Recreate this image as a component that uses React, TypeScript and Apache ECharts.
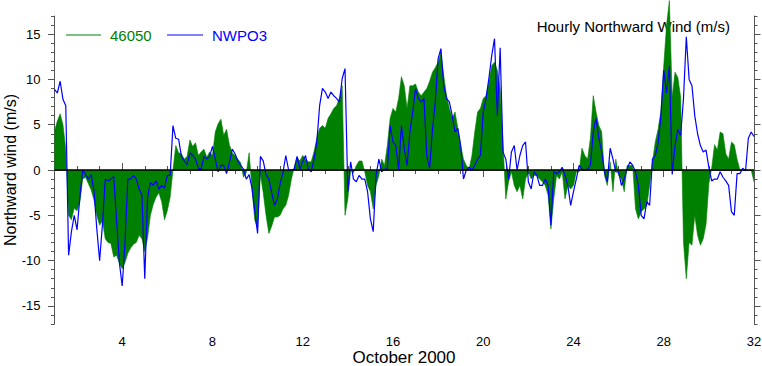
import React, { useEffect, useRef } from "react";
import * as echarts from "echarts";

// 3-hourly samples (8 per day) of hourly northward wind, Oct 1 00h .. Nov 1 00h (day 32)
const samplesPerDay = 8;
const startDay = 1;

const buoy46050: number[] = [
  4.3, 5.4, 6.2, 5.0, 2.3, -5.0, -5.5, -4.2,
  -4.5, -3.5, -1.0, -0.8, -1.5, -2.2, -3.3, -5.0,
  -6.1, -5.6, -7.6, -8.0, -8.1, -9.6, -9.4, -10.3,
  -10.9, -10.2, -9.2, -8.6, -8.2, -8.0, -7.2, -7.6,
  -9.0, -7.5, -5.0, -3.8, -3.0, -2.5, -3.5, -5.5,
  -4.5, -3.0, 0.0, 2.7, 1.9, 1.8, 1.2, 1.5,
  3.3, 2.6, 3.0, 1.6, 2.0, 2.3, 1.4, 2.0,
  1.6, 4.2, 5.1, 5.6, 3.8, 4.5, 2.8, 1.9,
  1.6, 1.2, 0.8, -0.8, -0.3, 1.9, -2.0, -5.5,
  -6.5, -0.5, -2.5, -5.0, -7.0, -6.2, -5.2, -5.2,
  -5.0, -4.3, -3.9, -2.8, -1.0, 0.3, 1.4, 1.0,
  1.6, 1.2, 0.9, 0.9, 2.0, 3.5, 4.6, 4.9,
  4.6, 5.7, 6.2, 6.8, 7.1, 7.9, 9.3, -5.0,
  -3.2, 0.0, -0.3, 0.5, 1.0, 1.0, -0.2, -1.7,
  -2.4, -4.3, -1.7, -0.6, 1.2, 0.5, 2.7, 5.7,
  6.8, 6.4, 7.9, 10.3, 9.3, 6.8, 9.3, 9.3,
  9.5, 8.6, 8.2, 8.6, 9.0, 9.8, 10.8, 11.3,
  11.9, 13.0, 10.4, 8.2, 6.8, 5.7, 6.4, 4.6,
  2.7, 1.2, 0.5, 0.1, 1.6, 4.2, 6.4, 6.8,
  7.9, 8.2, 9.7, 11.5, 11.9, 11.0, 9.0, 3.0,
  -3.2, -1.3, -0.2, -1.7, -2.4, -1.7, -3.2, -1.0,
  -0.2, -1.0, -0.6, -0.6, -1.0, -1.3, -1.7, -2.8,
  -6.5, -3.2, -0.6, -1.0, -0.2, -3.2, -1.7, -2.1,
  -1.7, -0.2, -0.2, 2.4, 1.6, 1.2, 3.5, 8.2,
  6.4, 4.9, 4.2, -0.6, -1.7, 0.9, -2.4, 1.2,
  -0.6, -1.0, -2.4, 0.5, 0.5, 0.5, -4.3, -5.4,
  -4.6, -4.3, -3.9, -1.7, 0.9, 3.1, 4.5, 6.5,
  11.5, 16.0, 18.7, 8.0, 10.8, 10.2, 8.0, -8.0,
  -12.0, -8.0, -8.3, -5.0, -7.2, -8.3, -7.6, -6.0,
  -1.5, 0.2, 2.8, 2.2, 4.2, 4.0, 1.8, 1.2,
  3.1, 2.8, 1.2, 0.0, 0.0, 0.0, 0.0, 0.0,
  -1.3,
];

const stationNWPO3: number[] = [
  8.9, 8.5, 9.8, 7.8, 7.1, -9.4, -6.8, -5.0,
  -6.6, -3.0, 0.0, -0.5, -1.0, -0.5, -2.3, -6.5,
  -10.0, -6.0, -1.0, -1.2, -1.0, -0.7, -5.5, -10.2,
  -12.8, -8.0, -1.0, -1.0, -0.6, -1.0, -2.1, -2.8,
  -12.0, -3.0, -1.4, -1.7, -1.2, -2.1, -1.7, -2.0,
  -0.6, -0.6, 4.9, 3.5, 3.4, 1.5, 1.0, 0.6,
  1.9, 1.6, 1.2, 0.2, 0.1, 1.5, 1.2, 1.5,
  2.6, 1.2, -0.2, 0.5, 0.5, -0.4, 0.8, 2.3,
  1.8, 1.0, 0.5, 0.1, -1.0, -0.5, -2.0, -4.5,
  -7.0, 1.5, 1.0, -0.5, -1.0, -2.5, -3.9, -3.2,
  -1.5, -0.3, 1.6, 0.0, 0.0, 0.1, 1.5, 0.1,
  0.9, 1.6, 0.1, -0.2, 1.2, 3.1, 7.1, 9.0,
  8.6, 7.9, 8.6, 8.2, 7.9, 7.5, 10.1, 11.2,
  -2.4, 0.9, -1.0, -1.3, -0.6, -1.0, -1.0, -2.4,
  -5.4, -6.8, -0.6, 1.2, -0.2, 0.1, 0.1, 4.9,
  3.1, 2.7, 0.1, 4.9, 2.4, 0.5, 4.2, 6.4,
  9.0, 7.9, 7.5, 7.9, 1.5, 0.2, 4.5, 7.5,
  12.3, 13.4, 9.3, 7.9, 7.5, 6.0, 4.2, 4.6,
  2.7, -1.0, 0.0, 0.3, 0.0, 0.5, 1.2, 1.6,
  6.4, 7.9, 10.1, 12.6, 14.5, 6.0, 13.5, 2.0,
  1.2, -1.0, 2.0, 2.7, 0.0, 1.6, 2.7, 3.1,
  -1.3, -2.1, -0.2, -0.6, -1.7, -1.7, -1.0, -1.7,
  -6.1, -0.2, -0.4, -0.2, 0.3, -0.6, -1.7, -3.9,
  -2.4, -1.0, 0.5, 0.1, 0.0, 0.1, 0.5, 4.2,
  5.7, 3.5, 2.0, -0.2, -1.3, 2.4, 1.2, -0.2,
  -0.2, -1.7, -1.0, 0.1, 0.9, 0.5, -0.2, -1.7,
  -5.0, -5.4, -3.5, -3.9, 1.2, 1.6, 3.0, 6.0,
  11.0, 8.5, 11.5, -0.5, 2.7, 4.5, 3.8, 7.9,
  14.7, 10.0, 9.3, 6.0, 4.0, 2.7, 2.0, 2.2,
  0.3, -1.2, -1.0, -1.0, -0.2, -0.8, -1.2, -1.7,
  -4.6, -5.0, -0.4, -0.4, 0.2, -0.1, 3.5, 4.2,
  3.7,
];

const xLabelDays = [4, 8, 12, 16, 20, 24, 28, 32];
const yLabelValues = [-15, -10, -5, 0, 5, 10, 15];
const seriesNames = ["46050", "NWPO3"];
const seriesColors = ["#008000", "#0000ff"];
const xTitle = "October 2000";
const yTitle = "Northward wind (m/s)";
const chartTitle = "Hourly Northward Wind (m/s)";

const FONT = '"Liberation Sans", Arial, Helvetica, sans-serif';
const AXIS_COLOR = "#555";

function toPairs(values: number[]) {
  return values.map((v, i) => [startDay + i / samplesPerDay, v]);
}

export default function App() {
  const ref = useRef<HTMLDivElement>(null);

  useEffect(() => {
    if (!ref.current) return;
    const chart = echarts.init(ref.current, null, { renderer: "svg" });

    const xBase = { type: "value", min: 1, max: 32, gridIndex: 0, splitLine: { show: false } };
    const yBase = { type: "value", min: -17, max: 17, gridIndex: 0, splitLine: { show: false } };
    const tickLine = { color: AXIS_COLOR, width: 1 };

    chart.setOption({
      animation: false,
      textStyle: { fontFamily: FONT },
      grid: {
        left: 54.5,
        right: 8,
        top: 16,
        bottom: 42,
        containLabel: false,
        outerBoundsMode: "none",
      },
      xAxis: [
        {
          ...xBase,
          position: "bottom",
          interval: 1,
          axisLine: { show: true, lineStyle: { color: AXIS_COLOR, width: 1 } },
          axisTick: { show: true, length: 4, lineStyle: tickLine },
          axisLabel: {
            show: true,
            customValues: xLabelDays,
            fontSize: 13,
            color: "#000",
            margin: 11,
            fontFamily: FONT,
          },
        },
        {
          ...xBase,
          position: "bottom",
          axisLine: { show: false },
          axisTick: { show: true, length: 7, customValues: xLabelDays, lineStyle: tickLine },
          axisLabel: { show: false },
        },
        {
          ...xBase,
          position: "top",
          interval: 1,
          axisLine: { show: true, lineStyle: { color: AXIS_COLOR, width: 1 } },
          axisTick: { show: true, length: 4, lineStyle: tickLine },
          axisLabel: { show: false },
        },
        {
          ...xBase,
          position: "top",
          axisLine: { show: false },
          axisTick: { show: true, length: 7, customValues: xLabelDays, lineStyle: tickLine },
          axisLabel: { show: false },
        },
      ],
      yAxis: [
        {
          ...yBase,
          position: "left",
          interval: 1,
          axisLine: { show: true, lineStyle: { color: AXIS_COLOR, width: 1 } },
          axisTick: { show: true, length: 3.5, lineStyle: tickLine },
          axisLabel: {
            show: true,
            customValues: yLabelValues,
            fontSize: 13,
            color: "#000",
            margin: 14,
            fontFamily: FONT,
          },
        },
        {
          ...yBase,
          position: "left",
          axisLine: { show: false },
          axisTick: { show: true, length: 6.5, customValues: yLabelValues, lineStyle: tickLine },
          axisLabel: { show: false },
        },
        {
          ...yBase,
          position: "right",
          interval: 1,
          axisLine: { show: true, lineStyle: { color: AXIS_COLOR, width: 1 } },
          axisTick: { show: true, length: 3.5, lineStyle: tickLine },
          axisLabel: { show: false },
        },
        {
          ...yBase,
          position: "right",
          axisLine: { show: false },
          axisTick: { show: true, length: 6.5, customValues: yLabelValues, lineStyle: tickLine },
          axisLabel: { show: false },
        },
      ],
      series: [
        {
          name: seriesNames[0],
          type: "line",
          xAxisIndex: 0,
          yAxisIndex: 0,
          data: toPairs(buoy46050),
          showSymbol: false,
          symbol: "none",
          clip: false,
          z: 2,
          lineStyle: { color: seriesColors[0], width: 0.6 },
          areaStyle: { color: seriesColors[0], opacity: 1, origin: "auto" },
        },
        {
          name: seriesNames[1],
          type: "line",
          xAxisIndex: 0,
          yAxisIndex: 0,
          data: toPairs(stationNWPO3),
          showSymbol: false,
          symbol: "none",
          z: 3,
          lineStyle: { color: seriesColors[1], width: 1.2 },
          markLine: {
            silent: true,
            symbol: "none",
            label: { show: false },
            lineStyle: { color: "#000", width: 1.5, type: "solid" },
            data: [{ yAxis: 0 }],
          },
        },
      ],
      graphic: [
        {
          type: "line",
          shape: { x1: 66, y1: 35, x2: 101, y2: 35 },
          style: { stroke: seriesColors[0], lineWidth: 1.1 },
        },
        {
          type: "text",
          x: 110,
          y: 35,
          style: {
            text: seriesNames[0],
            fill: seriesColors[0],
            fontSize: 15,
            fontFamily: FONT,
            verticalAlign: "middle",
          },
        },
        {
          type: "line",
          shape: { x1: 167, y1: 35, x2: 203, y2: 35 },
          style: { stroke: seriesColors[1], lineWidth: 1.1 },
        },
        {
          type: "text",
          x: 212,
          y: 35,
          style: {
            text: seriesNames[1],
            fill: seriesColors[1],
            fontSize: 15,
            fontFamily: FONT,
            verticalAlign: "middle",
          },
        },
        {
          type: "text",
          x: 730,
          y: 26,
          style: {
            text: chartTitle,
            fill: "#000",
            fontSize: 15,
            fontFamily: FONT,
            align: "right",
            verticalAlign: "middle",
          },
        },
        {
          type: "text",
          x: 404,
          y: 357.5,
          style: {
            text: xTitle,
            fill: "#000",
            fontSize: 17,
            fontFamily: FONT,
            align: "center",
            verticalAlign: "middle",
          },
        },
        {
          type: "text",
          x: 10,
          y: 170,
          rotation: Math.PI / 2,
          style: {
            text: yTitle,
            fill: "#000",
            fontSize: 16,
            fontFamily: FONT,
            align: "center",
            verticalAlign: "middle",
          },
        },
      ],
    });

    return () => chart.dispose();
  }, []);

  return (
    <div
      ref={ref}
      style={{ position: "fixed", left: 0, top: 0, width: 762, height: 366, background: "#fff" }}
    />
  );
}
